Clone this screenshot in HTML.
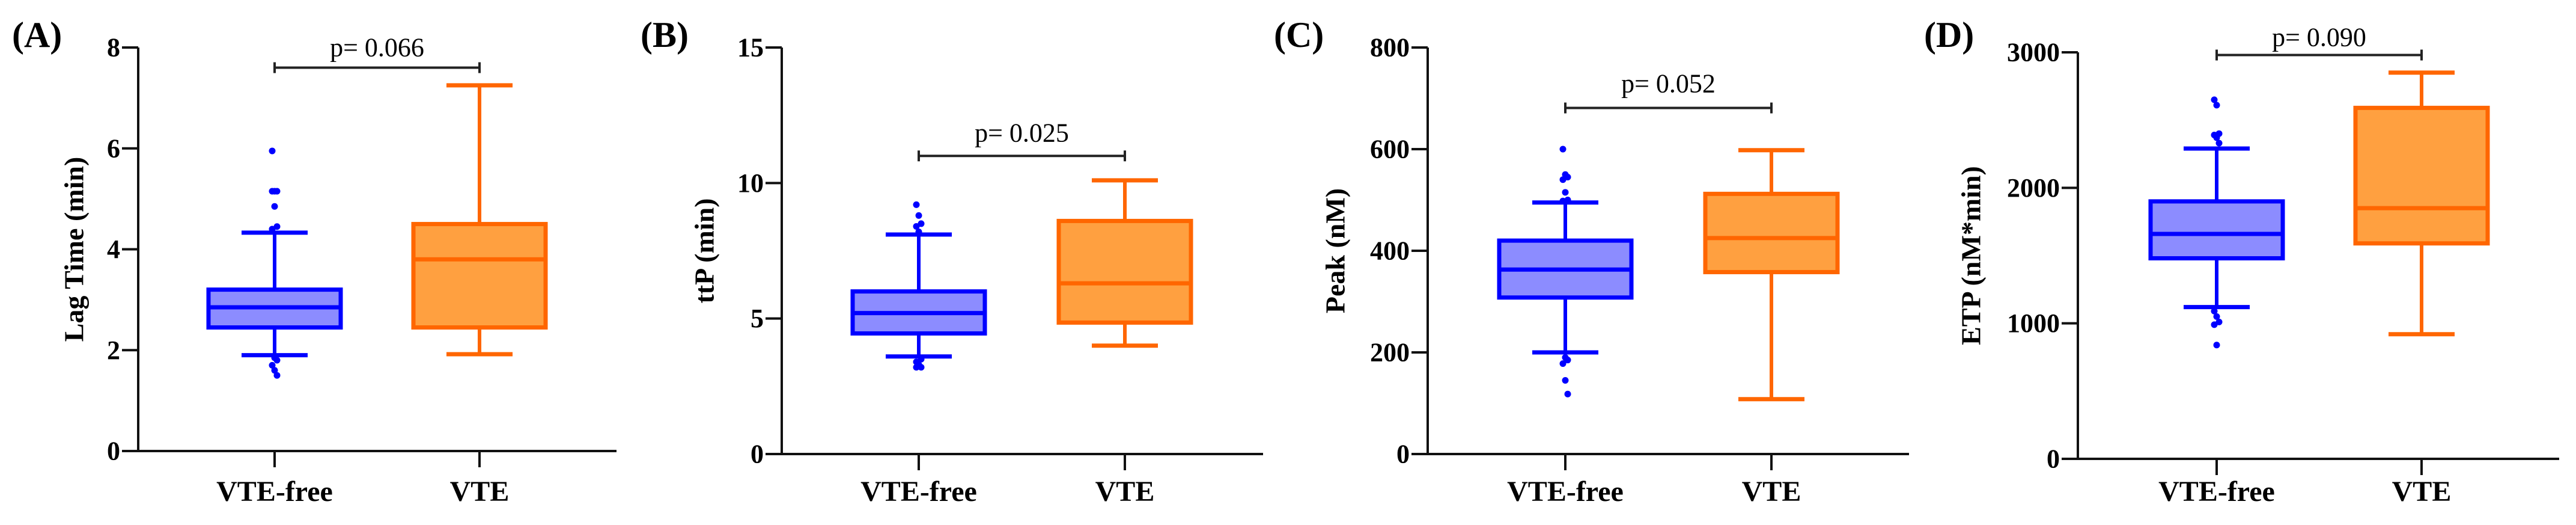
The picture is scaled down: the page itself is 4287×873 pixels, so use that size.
<!DOCTYPE html>
<html><head><meta charset="utf-8"><style>
html,body{margin:0;padding:0;background:#fff;}
svg{display:block;}
text{font-family:"Liberation Serif",serif;}
</style></head><body>
<svg id="chart" width="4287" height="873" viewBox="0 0 4287 873" xmlns="http://www.w3.org/2000/svg"></svg>
<script>
const categories = ["VTE-free","VTE"];
// Panel A: Lag Time
const aFree = {lo:1.9, q1:2.45, med:2.85, q3:3.2, hi:4.33};
const aVte  = {lo:1.92, q1:2.45, med:3.8, q3:4.5, hi:7.25};
const aOut  = [5.95,5.15,5.15,5.15,4.85,4.45,4.4,1.85,1.8,1.7,1.6,1.5];
const aTicks = [0,2,4,6,8];
// Panel B: ttP
const bFree = {lo:3.6, q1:4.45, med:5.2, q3:6.0, hi:8.1};
const bVte  = {lo:4.0, q1:4.85, med:6.3, q3:8.6, hi:10.1};
const bOut  = [9.2,8.8,8.5,8.4,8.2,3.5,3.4,3.3,3.2,3.2];
const bTicks = [0,5,10,15];
// Panel C: Peak
const cFree = {lo:200, q1:308, med:363, q3:420, hi:495};
const cVte  = {lo:108, q1:358, med:425, q3:512, hi:598};
const cOut  = [600,550,545,540,515,500,498,190,185,178,145,118];
const cTicks = [0,200,400,600,800];
// Panel D: ETP
const dFree = {lo:1120, q1:1480, med:1660, q3:1900, hi:2290};
const dVte  = {lo:920, q1:1590, med:1850, q3:2590, hi:2850};
const dOut  = [2650,2610,2400,2390,2370,2330,1090,1050,1010,990,840];
const dTicks = [0,1000,2000,3000];
const pValues = ["p= 0.066","p= 0.025","p= 0.052","p= 0.090"];
const bracketY = [7.6, 11.0, 681, 2980];
const pTextY = [8.0, 11.85, 729, 3111];

const svg = document.getElementById('chart');
const NS = "http://www.w3.org/2000/svg";
function mk(tag, attrs, parent){
  const e = document.createElementNS(NS, tag);
  for (const k in attrs) e.setAttribute(k, attrs[k]);
  (parent||svg).appendChild(e);
  return e;
}
const panels = [
  {key:"a", label:"(A)", lx:20, title:"Lag Time (min)", tx:123, ax:230, xEnd:1026, c:[457,798], top:79, bot:750, max:8, free:aFree, vte:aVte, out:aOut, ticks:aTicks},
  {key:"b", label:"(B)", lx:1066, title:"ttP (min)", tx:1172, ax:1301, xEnd:2102, c:[1529,1872], top:79, bot:755, max:15, free:bFree, vte:bVte, out:bOut, ticks:bTicks},
  {key:"c", label:"(C)", lx:2120, title:"Peak (nM)", tx:2222, ax:2376, xEnd:3177, c:[2605,2948], top:79, bot:755, max:800, free:cFree, vte:cVte, out:cOut, ticks:cTicks},
  {key:"d", label:"(D)", lx:3202, title:"ETP (nM*min)", tx:3280, ax:3458, xEnd:4259, c:[3689,4030], top:87, bot:763, max:3000, free:dFree, vte:dVte, out:dOut, ticks:dTicks}
];
panels.forEach((p, i) => {
  const g = mk('g', {});
  
  
  const y = v => p.bot - (v / p.max) * (p.bot - p.top);
  const lab = mk('text', {x:p.lx, y:78, 'font-size':60, 'font-weight':'bold'}, g);
  lab.textContent = p.label;
  
  
  const midY = (p.top + p.bot) / 2;
  const tt = mk('text', {x:p.tx, y:midY, 'font-size':46, 'font-weight':'bold', 'text-anchor':'middle', 'dominant-baseline':'central', transform:`rotate(-90 ${p.tx} ${midY})`}, g);
  tt.textContent = p.title;
  
  
  const ya = mk('line', {x1:p.ax, y1:y(p.max), x2:p.ax, y2:p.bot, stroke:'#111', 'stroke-width':4}, g);
  
  
  const xa = mk('line', {x1:p.ax-27, y1:p.bot, x2:p.xEnd, y2:p.bot, stroke:'#111', 'stroke-width':4}, g);
  
  
  p.ticks.forEach(t => {
    mk('line', {x1:p.ax-27, y1:y(t), x2:p.ax, y2:y(t), stroke:'#111', 'stroke-width':4}, g);
    const tl = mk('text', {x:p.ax-30, y:y(t), 'font-size':44, 'font-weight':'bold', 'text-anchor':'end', 'dominant-baseline':'central'}, g);
    tl.textContent = t;
    
    
  });
  categories.forEach((cat, j) => {
    mk('line', {x1:p.c[j], y1:p.bot, x2:p.c[j], y2:p.bot+27, stroke:'#111', 'stroke-width':4}, g);
    const cl = mk('text', {x:p.c[j], y:833, 'font-size':48, 'font-weight':'bold', 'text-anchor':'middle'}, g);
    cl.textContent = cat;
    
    
  });
  [[p.free, '#0000ff', '#8c8cff', 'vte-free'], [p.vte, '#ff6600', '#ffa040', 'vte']].forEach((arr, j) => {
    const [s, stroke, fill, nm] = arr;
    const cx = p.c[j];
    const bg = mk('g', {}, g);
    
    
    mk('line', {x1:cx, y1:y(s.hi), x2:cx, y2:y(s.q3), stroke:stroke, 'stroke-width':6}, bg);
    mk('line', {x1:cx, y1:y(s.q1), x2:cx, y2:y(s.lo), stroke:stroke, 'stroke-width':6}, bg);
    mk('line', {x1:cx-55, y1:y(s.hi), x2:cx+55, y2:y(s.hi), stroke:stroke, 'stroke-width':7}, bg);
    mk('line', {x1:cx-55, y1:y(s.lo), x2:cx+55, y2:y(s.lo), stroke:stroke, 'stroke-width':7}, bg);
    mk('rect', {x:cx-110, y:y(s.q3), width:220, height:y(s.q1)-y(s.q3), fill:fill, stroke:stroke, 'stroke-width':7}, bg);
    mk('line', {x1:cx-110, y1:y(s.med), x2:cx+110, y2:y(s.med), stroke:stroke, 'stroke-width':7}, bg);
  });
  p.out.forEach((v, k) => {
    const d = mk('circle', {cx:p.c[0] + ((k % 3) - 1) * 4, cy:y(v), r:5.5, fill:'#0000ff'}, g);
    
    
  });
  const by = y(bracketY[i]);
  const br = mk('path', {d:`M${p.c[0]},${by-9}V${by+9}M${p.c[0]},${by}H${p.c[1]}M${p.c[1]},${by-9}V${by+9}`, stroke:'#222', 'stroke-width':4, fill:'none'}, g);
  
  
  const pt = mk('text', {x:(p.c[0]+p.c[1])/2, y:y(pTextY[i]), 'font-size':44, 'text-anchor':'middle', 'dominant-baseline':'central'}, g);
  pt.textContent = pValues[i];
  
  
});
</script>
</body></html>
